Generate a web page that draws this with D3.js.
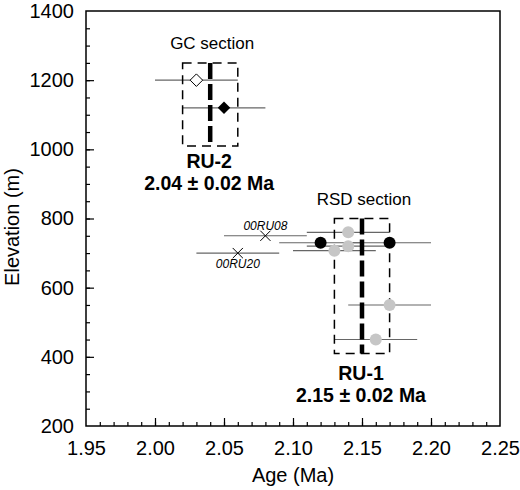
<!DOCTYPE html>
<html><head><meta charset="utf-8">
<script src="https://cdn.jsdelivr.net/npm/d3@7"></script>
<style>
body{margin:0;background:#fff;}
svg{font-family:"Liberation Sans",Arial,Helvetica,sans-serif;}
</style></head>
<body>
<svg id="chart" width="520" height="490"></svg>
<script>
// ---- data ----
const ageTicks = [1.95, 2.00, 2.05, 2.10, 2.15, 2.20, 2.25];
const ageMinorTicks = d3.range(196, 225).map(d => d / 100);
const elevTicks = [200, 400, 600, 800, 1000, 1200, 1400];
const elevMinorTicks = d3.range(250, 1400, 50);

const ageErr = 0.03;
// GC section
const gcOpenAge = [2.03], gcOpenElev = [1200];
const gcFilledAge = [2.05], gcFilledElev = [1120];
// RSD section
const rsdBlackAge = [2.12, 2.17], rsdBlackElev = [730, 730];
const rsdGrayAge = [2.14, 2.14, 2.13, 2.17, 2.16];
const rsdGrayElev = [760, 720, 707, 550, 450];
const crossAge = [2.08, 2.06], crossElev = [750, 700];
const crossLabels = ["00RU08", "00RU20"];
// mean ages (units)
const unitNames = ["RU-2", "RU-1"];
const unitMean = [2.04, 2.15];
const unitErr = [0.02, 0.02];
const unitElevLow = [1010, 410];
const unitElevHigh = [1250, 800];
const unitAgeLabels = ["2.04 ± 0.02 Ma", "2.15 ± 0.02 Ma"];
const sectionLabels = ["GC section", "RSD section"];

// layout offsets (pixels) for unit labels below the boxes
const unitLabelDy = [22.5, 26.5];
const lineGap = 22;

// ---- scales ----
const svg = d3.select("#chart");
const x = d3.scaleLinear().domain([1.95, 2.25]).range([86, 500]);
const y = d3.scaleLinear().domain([200, 1400]).range([426, 11]);

// ---- axes ----
const gx = svg.append("g").attr("transform", `translate(0,${y(200)})`);
gx.call(d3.axisBottom(x).tickValues(ageMinorTicks).tickSize(-4).tickFormat(""));
const gxM = svg.append("g").attr("transform", `translate(0,${y(200)})`);
gxM.call(d3.axisBottom(x).tickValues(ageTicks).tickSizeInner(-8).tickSizeOuter(0).tickPadding(15).tickFormat(d3.format(".2f")));
const gy = svg.append("g").attr("transform", `translate(${x(1.95)},0)`);
gy.call(d3.axisLeft(y).tickValues(elevMinorTicks).tickSize(-4).tickFormat(""));
const gyM = svg.append("g").attr("transform", `translate(${x(1.95)},0)`);
gyM.call(d3.axisLeft(y).tickValues(elevTicks).tickSizeInner(-8).tickSizeOuter(0).tickPadding(12).tickFormat(d3.format("d")));
svg.selectAll(".domain").remove();
svg.selectAll(".tick line").attr("stroke", "#000").attr("stroke-width", 1.2);
svg.selectAll(".tick text").attr("font-size", 20).attr("fill", "#000").attr("font-family", "Liberation Sans, Arial, sans-serif");
gxM.selectAll(".tick").filter(d => d === 2.25 || d === 1.95).select("line").remove();
gyM.selectAll(".tick").filter(d => d === 200 || d === 1400).select("line").remove();

svg.append("rect").attr("x", x(1.95)).attr("y", y(1400))
  .attr("width", x(2.25) - x(1.95)).attr("height", y(200) - y(1400))
  .attr("fill", "none").attr("stroke", "#000").attr("stroke-width", 1.5);

svg.append("text").attr("x", (x(1.95) + x(2.25)) / 2).attr("y", 482)
  .attr("text-anchor", "middle").attr("font-size", 20).text("Age (Ma)");
svg.append("text").attr("transform", "translate(19,227) rotate(-90)")
  .attr("text-anchor", "middle").attr("font-size", 20).text("Elevation (m)");

// ---- error bars ----
const allAge = [].concat(gcOpenAge, gcFilledAge, rsdBlackAge, rsdGrayAge, crossAge);
const allElev = [].concat(gcOpenElev, gcFilledElev, rsdBlackElev, rsdGrayElev, crossElev);
svg.append("g").selectAll("line").data(d3.range(allAge.length)).join("line")
  .attr("x1", i => x(allAge[i] - ageErr)).attr("x2", i => x(allAge[i] + ageErr))
  .attr("y1", i => y(allElev[i])).attr("y2", i => y(allElev[i]))
  .attr("stroke", "#666").attr("stroke-width", 1.1);

// ---- unit boxes and mean lines ----
svg.append("g").selectAll("rect").data(d3.range(unitMean.length)).join("rect")
  .attr("x", i => x(unitMean[i] - unitErr[i]))
  .attr("y", i => y(unitElevHigh[i]))
  .attr("width", i => x(unitMean[i] + unitErr[i]) - x(unitMean[i] - unitErr[i]))
  .attr("height", i => y(unitElevLow[i]) - y(unitElevHigh[i]))
  .attr("fill", "none").attr("stroke", "#000").attr("stroke-width", 1.5)
  .attr("stroke-dasharray", "9,6");
svg.append("g").selectAll("line").data(d3.range(unitMean.length)).join("line")
  .attr("x1", i => x(unitMean[i])).attr("x2", i => x(unitMean[i]))
  .attr("y1", i => y(unitElevHigh[i])).attr("y2", i => y(unitElevLow[i]))
  .attr("stroke", "#000").attr("stroke-width", 4.5)
  .attr("stroke-dasharray", "16,5");

// ---- markers ----
const diamond = d3.symbol().type(d3.symbolDiamond2).size(100);
svg.append("g").selectAll("path").data(d3.range(gcOpenAge.length)).join("path")
  .attr("d", diamond).attr("transform", i => `translate(${x(gcOpenAge[i])},${y(gcOpenElev[i])})`)
  .attr("fill", "#fff").attr("stroke", "#000").attr("stroke-width", 1);
svg.append("g").selectAll("path").data(d3.range(gcFilledAge.length)).join("path")
  .attr("d", diamond).attr("transform", i => `translate(${x(gcFilledAge[i])},${y(gcFilledElev[i])})`)
  .attr("fill", "#000");
svg.append("g").selectAll("circle").data(d3.range(rsdGrayAge.length)).join("circle")
  .attr("cx", i => x(rsdGrayAge[i])).attr("cy", i => y(rsdGrayElev[i])).attr("r", 6)
  .attr("fill", "#c6c6c6");
svg.append("g").selectAll("circle").data(d3.range(rsdBlackAge.length)).join("circle")
  .attr("cx", i => x(rsdBlackAge[i])).attr("cy", i => y(rsdBlackElev[i])).attr("r", 6)
  .attr("fill", "#000");
const cross = d3.symbol().type(d3.symbolX).size(70);
svg.append("g").selectAll("path").data(d3.range(crossAge.length)).join("path")
  .attr("d", cross).attr("transform", i => `translate(${x(crossAge[i])},${y(crossElev[i])})`)
  .attr("fill", "none").attr("stroke", "#000").attr("stroke-width", 1);
svg.append("g").selectAll("text").data(d3.range(crossAge.length)).join("text")
  .attr("x", i => x(crossAge[i]))
  .attr("y", i => y(crossElev[i]) + (i === 0 ? -6 : 15))
  .attr("text-anchor", "middle").attr("font-size", 12).attr("font-style", "italic")
  .text(i => crossLabels[i]);

// ---- labels ----
svg.append("g").selectAll("text").data(d3.range(sectionLabels.length)).join("text")
  .attr("x", i => x(unitMean[i]) + 2)
  .attr("y", i => y(unitElevHigh[i]) - 14)
  .attr("text-anchor", "middle").attr("font-size", 17)
  .text(i => sectionLabels[i]);
svg.append("g").selectAll("text").data(d3.range(unitNames.length)).join("text")
  .attr("x", i => x(unitMean[i]) - 1)
  .attr("y", i => y(unitElevLow[i]) + unitLabelDy[i])
  .attr("text-anchor", "middle").attr("font-size", 19.5).attr("font-weight", "bold")
  .text(i => unitNames[i]);
svg.append("g").selectAll("text").data(d3.range(unitAgeLabels.length)).join("text")
  .attr("x", i => x(unitMean[i]) - 1)
  .attr("y", i => y(unitElevLow[i]) + unitLabelDy[i] + lineGap)
  .attr("text-anchor", "middle").attr("font-size", 19.5).attr("font-weight", "bold")
  .text(i => unitAgeLabels[i]);
</script>
</body></html>
